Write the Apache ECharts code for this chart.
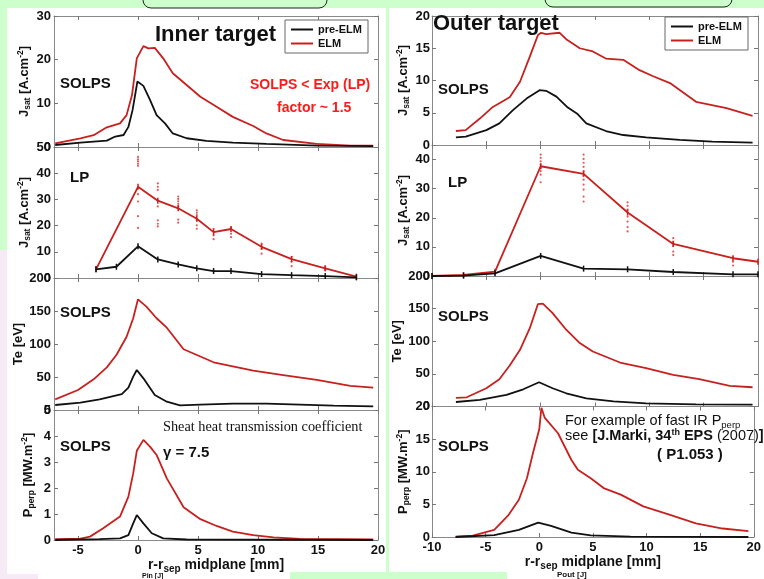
<!DOCTYPE html>
<html>
<head>
<meta charset="utf-8">
<script src="https://cdn.jsdelivr.net/npm/echarts@6/dist/echarts.min.js"></script>
<style>
html, body { margin: 0; padding: 0; background: #ccffcc; }
#main { width: 764px; height: 579px; }
</style>
</head>
<body>
<div id="main"></div>
<script>
// values, [r-rsep (mm), value]
var innerJsatElm = [[-6.9,0.85],[-4.8,2.0],[-3.7,2.7],[-2.6,4.5],[-1.5,5.4],[-0.95,7.3],[-0.5,11.9],[-0.1,20.3],[0.45,23.1],[0.86,22.6],[1.4,22.7],[2.1,20.3],[2.9,16.9],[4.05,14.2],[5.2,11.5],[6.55,9.2],[7.9,6.9],[9.6,4.8],[10.7,3.1],[12.1,1.6],[14.9,0.7],[17.7,0.3],[19.6,0.3]];
var innerJsatPre = [[-6.9,0.46],[-4.8,1.0],[-2.6,1.45],[-1.9,2.4],[-1.2,2.75],[-0.8,4.6],[-0.45,8.5],[-0.05,15.0],[0.45,14.0],[1.0,10.8],[1.55,7.3],[2.25,5.4],[2.9,3.1],[4.05,2.0],[5.7,1.4],[7.9,1.0],[10.7,0.7],[14.9,0.3],[19.6,0.2]];

var innerLpElm = [[-3.5,3.3],[0,34.8],[1.65,29.5],[3.35,26.6],[4.9,22.6],[6.3,17.5],[7.75,18.7],[10.3,11.9],[12.8,7.2],[15.6,3.7],[18.2,0.5]];
var innerLpPre = [[-3.5,3.3],[-1.8,4.3],[0,12.1],[1.65,7.1],[3.35,5.2],[4.9,3.7],[6.3,2.65],[7.75,2.65],[10.3,1.5],[12.8,1.1],[15.6,0.75],[18.2,0.25]];
var innerLpSamples = [[0,46.2],[0,45.3],[0,44.5],[0,43.6],[0,42.8],[0,32],[0,29.2],[0,23.6],[0,19.1],[1.65,36.1],[1.65,34.8],[1.65,33.6],[1.65,27.3],[1.65,22.0],[1.65,20.7],[1.65,19.7],[3.35,31.1],[3.35,30.2],[3.35,29.3],[3.35,28.3],[3.35,27.4],[3.35,22.3],[3.35,21.1],[4.9,25.8],[4.9,24.9],[4.9,24.0],[4.9,22.0],[4.9,20.1],[4.9,18.8],[6.3,18.8],[6.3,16.3],[6.3,14.8],[7.75,19.2],[7.75,16.9],[7.75,15.6],[10.3,13.1],[10.3,11.2],[10.3,9.3],[12.8,8.1],[12.8,6.2],[12.8,4.5],[15.6,4.3],[15.6,3.0]];

var innerTeElm = [[-6.9,16.2],[-5.0,30.3],[-3.7,46.5],[-2.6,64.6],[-1.8,83.3],[-0.95,111],[-0.4,139],[0,167.7],[0.7,156.6],[1.55,139],[2.4,124.7],[3.8,92],[6.3,72.3],[9.6,59.6],[12.1,53],[14.9,45.5],[17.7,36.4],[19.6,33.8]];
var innerTePre = [[-6.9,7.6],[-4.8,11.1],[-3.2,16.2],[-1.35,24.2],[-0.8,33.8],[-0.4,50.5],[-0.1,60.6],[0.45,48],[1.4,22.7],[2.4,12.6],[3.5,7.1],[5.2,8.1],[7.9,9.6],[10.7,9.6],[13.5,8.1],[16.3,6.6],[19.6,5.6]];

var innerPElm = [[-6.9,0.03],[-4.8,0.05],[-4.0,0.13],[-2.9,0.45],[-1.5,0.9],[-0.8,1.67],[-0.4,2.56],[-0.1,3.43],[0.45,3.85],[1.0,3.59],[1.55,3.27],[2.4,2.37],[3.8,1.26],[5.2,0.8],[6.55,0.54],[7.9,0.32],[9.6,0.19],[11.3,0.1],[13.5,0.04],[19.6,0.02]];
var innerPPre = [[-6.9,0],[-3.2,0.03],[-1.5,0.06],[-0.8,0.19],[-0.4,0.64],[-0.1,0.96],[0.45,0.64],[1.15,0.26],[2.1,0.06],[4.05,0.02],[19.6,0]];

var outerJsatElm = [[-7.8,2.17],[-6.9,2.3],[-5.6,4.1],[-4.4,5.9],[-2.85,7.4],[-1.9,9.8],[-1.0,13.7],[-0.25,17.05],[0.05,17.4],[0.5,17.2],[1.75,17.4],[2.35,16.4],[3.6,15.0],[4.8,14.5],[6.0,13.4],[7.6,13.2],[9.1,11.6],[10.3,10.7],[11.9,9.6],[14.3,6.7],[17.1,5.7],[19.5,4.5]];
var outerJsatPre = [[-7.8,1.19],[-6.9,1.29],[-5.0,2.3],[-3.8,3.36],[-2.55,5.4],[-1.3,7.2],[-0.1,8.5],[0.5,8.4],[1.45,7.5],[2.5,5.8],[3.4,4.8],[4.2,3.36],[6.0,2.17],[7.6,1.55],[9.7,1.19],[12.8,0.78],[15.8,0.52],[19.5,0.36]];

var outerLpElm = [[-10,0],[-7.1,0.34],[-4.2,1.5],[0,37.7],[3.95,35.1],[8.0,21.8],[12.2,11.0],[17.7,6.1],[20,4.9]];
var outerLpPre = [[-10,0],[-7.1,0.1],[-4.2,0.92],[0,6.9],[3.95,2.53],[8.0,2.3],[12.2,1.38],[17.7,0.57],[20,0.57]];
var outerLpSamples = [[0,41.7],[0,40.6],[0,39.4],[0,38.3],[0,37.1],[0,36.0],[0,34.8],[0,32.2],[3.95,41.7],[3.95,40.2],[3.95,38.9],[3.95,37.5],[3.95,36.0],[3.95,34.5],[3.95,33.1],[3.95,31.4],[3.95,29.7],[3.95,27.3],[3.95,25.6],[8,25.3],[8,24.1],[8,22.8],[8,20.4],[8,18.7],[8,16.8],[8,15.3],[12.2,13.0],[12.2,11.8],[12.2,10.3],[12.2,8.4],[12.2,7.2],[17.7,6.4],[17.7,4.9],[17.7,3.6]];

var outerTeElm = [[-7.8,13.1],[-6.8,14.1],[-5.0,28],[-3.8,41.8],[-2.85,62.8],[-1.9,86.9],[-1.0,120],[-0.25,157],[0.2,157.7],[1.1,143],[2.35,117.7],[3.6,97.2],[4.8,84.3],[7.3,67.4],[9.7,58.7],[12.2,48.5],[14.6,41.8],[17.4,31.5],[19.5,29.5]];
var outerTePre = [[-7.8,6.9],[-5.6,10],[-3.15,17.7],[-1.6,26.4],[-0.15,37.2],[1.1,28],[2.35,20.3],[4.2,12.6],[6.7,8],[9.7,4.9],[14.3,3.4],[19.5,2.8]];

var outerPElm = [[-7.8,0.05],[-6.2,0.2],[-4.2,1.08],[-2.85,3.4],[-1.9,5.7],[-1.15,9.0],[-0.55,13.1],[0,16.5],[0.2,19.8],[0.5,18.3],[1.75,15.9],[3.0,11.8],[3.6,10.3],[4.8,9.0],[6.0,7.5],[7.6,6.5],[9.7,4.7],[12.2,3.4],[14.6,2.1],[17.1,1.3],[19.5,0.9]];
var outerPPre = [[-7.8,0],[-4.2,0.3],[-1.9,1.08],[-0.1,2.2],[1.1,1.7],[3.0,0.66],[4.8,0.26],[8.5,0.05],[19.5,0]];

var innerTicks = [-5, 0, 5, 10, 15, 20];
var seriesNames = ['pre-ELM', 'ELM'];

var FONT = 'Liberation Sans, Arial, sans-serif';
var RED = '#c8201e';
var BLACK = '#111111';
var jsatName = 'J{sub|sat} [A.cm{sup|-2}]';

var panels = [
    {grid: [54, 16, 324, 131], x: [-7, 20], y: [0, 30, 10], name: jsatName, pre: innerJsatPre, elm: innerJsatElm},
    {grid: [54, 147, 324, 131], x: [-7, 20], y: [0, 50, 10], name: jsatName, pre: innerLpPre, elm: innerLpElm, dots: innerLpSamples},
    {grid: [54, 278, 324, 132], x: [-7, 20], y: [0, 200, 50], name: 'Te [eV]', pre: innerTePre, elm: innerTeElm},
    {grid: [54, 410, 324, 130], x: [-7, 20], y: [0, 5, 1], name: 'P{sub|perp} [MW.m{sup|-2}]', pre: innerPPre, elm: innerPElm, bottom: true},
    {grid: [432, 16, 326, 129], x: [-10, 20], y: [0, 20, 5], name: jsatName, pre: outerJsatPre, elm: outerJsatElm},
    {grid: [432, 145, 326, 131], x: [-10, 20], y: [0, 45, 10], name: jsatName, pre: outerLpPre, elm: outerLpElm, dots: outerLpSamples, hideMax: true},
    {grid: [432, 276, 326, 130.5], x: [-10, 20], y: [0, 200, 50], name: 'Te [eV]', pre: outerTePre, elm: outerTeElm},
    {grid: [432, 406.5, 326, 130.5], x: [-10, 20], y: [0, 20, 5], name: 'P{sub|perp} [MW.m{sup|-2}]', pre: outerPPre, elm: outerPElm, bottom: true}
];

var nameRich = {
    sub: {fontSize: 8.5, fontWeight: 'bold', fontFamily: FONT, color: '#111', padding: [7, 0, 0, 0]},
    sup: {fontSize: 8.5, fontWeight: 'bold', fontFamily: FONT, color: '#111', padding: [0, 0, 7, 0]}
};
var axisLineStyle = {color: '#8a8a8a', width: 1};
var tickStyle = {color: '#777', width: 1};
var labelStyle = {fontSize: 13, fontWeight: 'bold', fontFamily: FONT, color: '#111'};

var grids = [], xAxes = [], yAxes = [], series = [];
var n = panels.length;

panels.forEach(function (p, i) {
    var inner = p.x[0] === -7;
    grids.push({left: p.grid[0], top: p.grid[1], width: p.grid[2], height: p.grid[3]});

    var xBase = {
        type: 'value', gridIndex: i, min: p.x[0], max: p.x[1],
        axisLine: {show: true, onZero: false, lineStyle: axisLineStyle},
        axisTick: {show: true, inside: true, length: 4, lineStyle: tickStyle},
        splitLine: {show: false}
    };
    if (inner) {
        xBase.axisTick.customValues = innerTicks;
    } else {
        xBase.interval = 5;
    }
    var xMain = echarts.util.merge({}, xBase, true);
    xMain.position = 'bottom';
    xMain.axisLabel = echarts.util.extend({show: !!p.bottom, margin: 4}, labelStyle);
    if (inner) xMain.axisLabel.customValues = innerTicks;
    if (p.bottom) {
        xMain.name = 'r-r{sub|sep} midplane [mm]';
        xMain.nameLocation = 'middle';
        xMain.nameGap = inner ? 12 : 13;
        xMain.nameTextStyle = {fontSize: 14, fontWeight: 'bold', fontFamily: FONT, color: '#111',
            rich: {sub: {fontSize: 10, fontWeight: 'bold', fontFamily: FONT, color: '#111', padding: [9, 0, 0, 0]}}};
    }
    xAxes[i] = xMain;
    var xTop = echarts.util.merge({}, xBase, true);
    xTop.position = 'top';
    xTop.axisLabel = {show: false};
    xAxes[n + i] = xTop;

    var yBase = {
        type: 'value', gridIndex: i, min: p.y[0], max: p.y[1], interval: p.y[2],
        axisLine: {show: true, onZero: false, lineStyle: axisLineStyle},
        axisTick: {show: true, inside: true, length: 4, lineStyle: tickStyle},
        splitLine: {show: false}
    };
    var yMain = echarts.util.merge({}, yBase, true);
    yMain.position = 'left';
    yMain.axisLabel = echarts.util.extend({margin: inner ? 3 : 2, showMaxLabel: !p.hideMax}, labelStyle);
    yMain.name = p.name;
    yMain.nameLocation = 'middle';
    yMain.nameRotate = 90;
    yMain.nameGap = inner ? 18 : 21;
    yMain.nameTextStyle = {fontSize: 13, fontWeight: 'bold', fontFamily: FONT, color: '#111', rich: nameRich};
    yAxes[i] = yMain;
    var yRight = echarts.util.merge({}, yBase, true);
    yRight.position = 'right';
    yRight.axisLabel = {show: false};
    yAxes[n + i] = yRight;

    if (p.dots) {
        series.push({
            name: 'LP samples', type: 'scatter', xAxisIndex: i, yAxisIndex: i,
            data: p.dots, symbol: 'circle', symbolSize: 2.2,
            itemStyle: {color: '#e03030', opacity: 0.8}, silent: true, z: 1
        });
    }
    [p.pre, p.elm].forEach(function (d, k) {
        var c = k === 0 ? BLACK : RED;
        series.push({
            name: seriesNames[k], type: 'line', xAxisIndex: i, yAxisIndex: i, data: d,
            symbol: p.dots ? 'rect' : 'none', symbolSize: [1.5, 6], showSymbol: !!p.dots,
            itemStyle: {color: c},
            lineStyle: {color: c, width: 1.8},
            silent: true, animation: false, z: k === 0 ? 3 : 2
        });
    });
});

function txt(x, y, text, size, opts) {
    opts = opts || {};
    return {
        type: 'text', x: x, y: y, z: 20,
        style: {
            text: text, fontSize: size, fontWeight: opts.weight || 'bold',
            fontFamily: opts.family || FONT, fill: opts.color || '#111',
            textVerticalAlign: 'middle', rich: opts.rich
        }
    };
}

var richNote = {
    b: {fontSize: 14.5, fontWeight: 'bold', fontFamily: FONT, fill: '#111'},
    bs: {fontSize: 9, fontWeight: 'bold', fontFamily: FONT, fill: '#111', padding: [0, 0, 7, 0]},
    s: {fontSize: 9.5, fontWeight: 'normal', fontFamily: FONT, fill: '#111', padding: [8, 0, 0, 0]}
};

var graphics = [
    {type: 'rect', z: -10, silent: true, shape: {x: 7, y: 8, width: 379, height: 571}, style: {fill: '#ffffff'}},
    {type: 'rect', z: -10, silent: true, shape: {x: 389, y: 8, width: 375, height: 571}, style: {fill: '#ffffff'}},
    {type: 'rect', z: -10, silent: true, shape: {x: 0, y: 250, width: 7, height: 329}, style: {fill: '#f6eaf6'}},
    {type: 'rect', z: -10, silent: true, shape: {x: 0, y: 574, width: 38, height: 5}, style: {fill: '#f6eaf6'}},
    {type: 'rect', z: -10, silent: true, shape: {x: 290, y: 572, width: 217, height: 7}, style: {fill: '#ccffcc'}},
    {type: 'rect', z: -5, silent: true, shape: {x: 143, y: -20, width: 184, height: 28, r: 8}, style: {fill: '#ccffcc', stroke: '#222', lineWidth: 1}},
    {type: 'rect', z: -5, silent: true, shape: {x: 545, y: -20, width: 187, height: 27, r: 8}, style: {fill: '#ccffcc', stroke: '#222', lineWidth: 1}},

    txt(155, 35, 'Inner target', 22),
    txt(433, 24, 'Outer target', 22),
    txt(60, 84, 'SOLPS', 15),
    txt(250, 85, 'SOLPS < Exp (LP)', 14, {color: '#ff1a1a'}),
    txt(277, 108, 'factor ~ 1.5', 14, {color: '#ff1a1a'}),
    txt(70, 178, 'LP', 15),
    txt(60, 313, 'SOLPS', 15),
    txt(163, 427, 'Sheat heat transmission coefficient', 14.3, {weight: 'normal', family: 'Liberation Serif, Times New Roman, serif'}),
    txt(60, 447, 'SOLPS', 15),
    txt(163, 453, 'γ = 7.5', 15),
    txt(142, 576, 'Pin [J]', 7),
    txt(438, 90, 'SOLPS', 15),
    txt(448, 183, 'LP', 15),
    txt(438, 317, 'SOLPS', 15),
    txt(438, 447, 'SOLPS', 15),
    txt(565, 421, 'For example of fast IR P{s|perp}', 14.5, {weight: 'normal', rich: richNote}),
    txt(565, 436, 'see {b|[J.Marki, 34}{bs|th}{b| EPS} (2007){b|]}', 14.5, {weight: 'normal', rich: richNote}),
    txt(657, 455, '( P1.053 )', 15),
    txt(557, 575, 'Pout [J]', 8)
];

var legendBase = {
    data: [{name: 'pre-ELM', icon: 'rect'}, {name: 'ELM', icon: 'rect'}],
    orient: 'vertical', selectedMode: false,
    itemWidth: 22, itemHeight: 2, itemGap: 1, padding: [3, 6, 3, 6],
    backgroundColor: '#ffffff', borderColor: '#666', borderWidth: 1, borderRadius: 0,
    textStyle: {fontSize: 11, fontWeight: 'bold', fontFamily: FONT, color: '#111', lineHeight: 13}
};

var chart = echarts.init(document.getElementById('main'), null, {renderer: 'canvas'});
chart.setOption({
    animation: false,
    backgroundColor: '#ccffcc',
    grid: grids,
    xAxis: xAxes,
    yAxis: yAxes,
    legend: [
        echarts.util.extend({left: 285, top: 20}, legendBase),
        echarts.util.extend({left: 665, top: 17}, legendBase)
    ],
    graphic: graphics,
    series: series
});
</script>
</body>
</html>
